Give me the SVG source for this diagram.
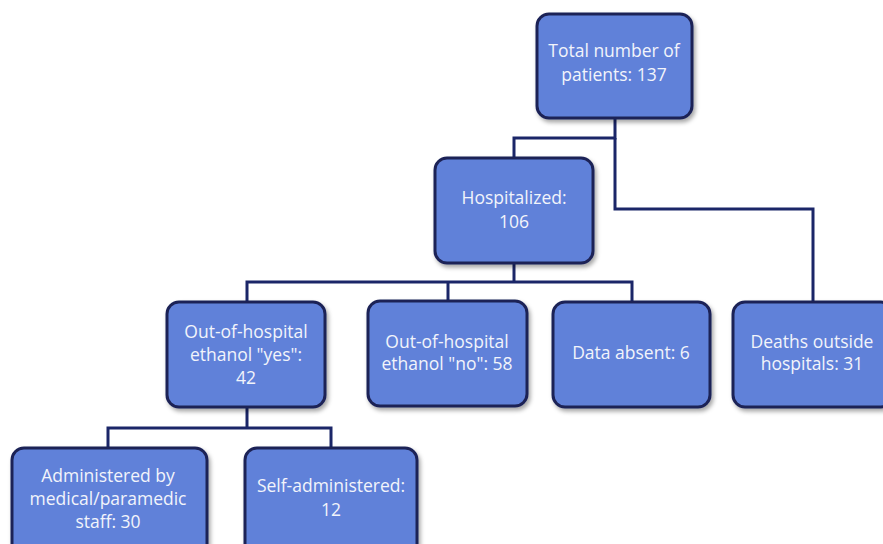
<svg xmlns="http://www.w3.org/2000/svg" width="883" height="544" viewBox="0 0 883 544">
<defs>
<filter id="sh" x="-10%" y="-10%" width="130%" height="130%">
<feDropShadow dx="2" dy="3" stdDeviation="2" flood-color="#000" flood-opacity="0.35"/>
</filter>
<style>
.box{fill:#6181d9;stroke:#1b2457;stroke-width:3;filter:url(#sh)}
.t{font-family:"Open Sans","Liberation Sans",Arial,sans-serif;font-size:17.5px;fill:#f2f4fb;text-anchor:middle}
.c{fill:none;stroke:#1b2668;stroke-width:3}
</style>
</defs>
<rect width="883" height="544" fill="#ffffff"/>
<g id="connectors">
<path class="c" d="M615 118 V138 H514 V158"/>
<path class="c" d="M615 138 V209 H813 V302"/>
<path class="c" d="M514 263 V282"/>
<path class="c" d="M247 302 V282 H632 V302"/>
<path class="c" d="M448 282 V301"/>
<path class="c" d="M247 407 V428"/>
<path class="c" d="M108 448 V428 H331 V448"/>
</g>
<g id="total">
<rect class="box" x="537" y="14" width="155" height="104" rx="12"/>
<text class="t" x="614" y="57">Total number of</text>
<text class="t" x="614" y="81">patients: 137</text>
</g>
<g id="hospitalized">
<rect class="box" x="435" y="158" width="158" height="105" rx="12"/>
<text class="t" x="514" y="204">Hospitalized:</text>
<text class="t" x="514" y="228">106</text>
</g>
<g id="yes">
<rect class="box" x="167" y="302" width="158" height="105" rx="12"/>
<text class="t" x="246" y="338">Out-of-hospital</text>
<text class="t" x="246" y="361">ethanol "yes":</text>
<text class="t" x="246" y="384">42</text>
</g>
<g id="no">
<rect class="box" x="368" y="301" width="159" height="105" rx="12"/>
<text class="t" x="447" y="348">Out-of-hospital</text>
<text class="t" x="447" y="370">ethanol "no": 58</text>
</g>
<g id="absent">
<rect class="box" x="553" y="302" width="157" height="105" rx="12"/>
<text class="t" x="631" y="359">Data absent: 6</text>
</g>
<g id="deaths">
<rect class="box" x="733" y="302" width="160" height="105" rx="12"/>
<text class="t" x="812" y="348">Deaths outside</text>
<text class="t" x="812" y="370">hospitals: 31</text>
</g>
<g id="administered">
<rect class="box" x="12" y="448" width="195" height="110" rx="12"/>
<text class="t" x="108" y="482">Administered by</text>
<text class="t" x="108" y="505">medical/paramedic</text>
<text class="t" x="108" y="528">staff: 30</text>
</g>
<g id="self">
<rect class="box" x="245" y="448" width="172" height="110" rx="12"/>
<text class="t" x="331" y="492">Self-administered:</text>
<text class="t" x="331" y="516">12</text>
</g>
</svg>
